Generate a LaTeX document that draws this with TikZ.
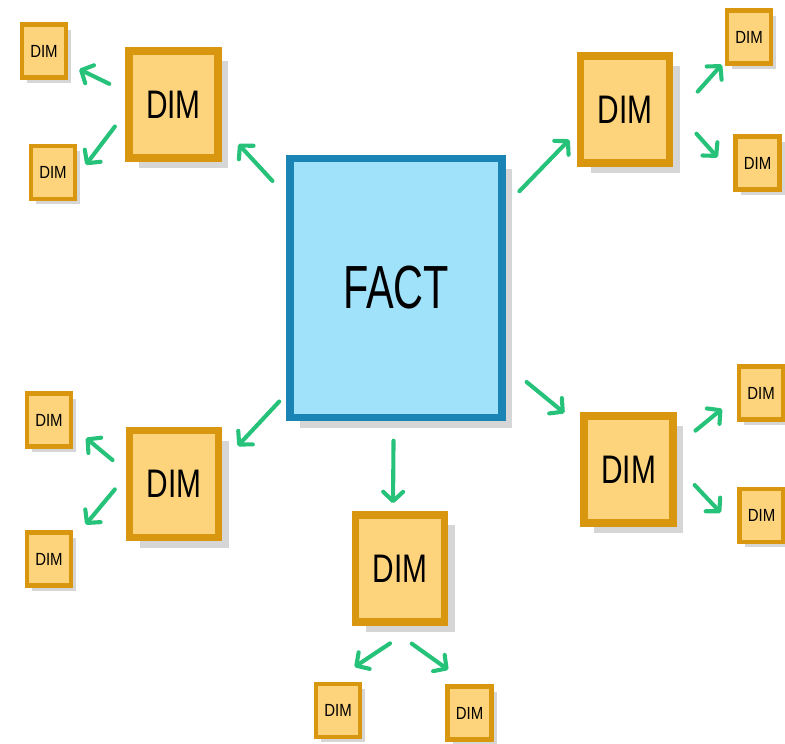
\documentclass[tikz,border=0pt]{standalone}
\usepackage{fontspec}
\setmainfont{Liberation Sans}
\usetikzlibrary{arrows.meta,shadows}
\definecolor{dimfill}{HTML}{FDD37C}
\definecolor{dimline}{HTML}{D9960F}
\definecolor{factfill}{HTML}{A0E2F9}
\definecolor{factline}{HTML}{1A85B5}
\definecolor{arrgreen}{HTML}{26C27A}
\begin{document}
\begin{tikzpicture}[x=0.03cm,y=-0.03cm,
  shd/.style={drop shadow={shadow xshift=0.3cm,shadow yshift=-0.3cm,fill=black!16,opacity=1}},
  factbox/.style={draw=factline,fill=factfill,line width=6.5pt,minimum width=6.36cm,minimum height=7.77cm,inner sep=0pt,shd,font=\fontsize{52}{52}\selectfont},
  bigdim/.style={draw=dimline,fill=dimfill,line width=6.5pt,minimum width=2.67cm,minimum height=3.21cm,inner sep=0pt,shd,font=\fontsize{34}{34}\selectfont},
  smalldim/.style={draw=dimline,fill=dimfill,line width=4pt,minimum width=1.32cm,minimum height=1.59cm,inner sep=0pt,drop shadow={shadow xshift=0.15cm,shadow yshift=-0.15cm,fill=black!16,opacity=1},font=\fontsize{15}{15}\selectfont},
  arr/.style={draw=arrgreen,line width=3.5pt,line cap=round,-{Straight Barb[length=8pt,width=17pt,line cap=round,line join=round]}}]
\useasboundingbox (0,0) rectangle (785,743);
% central fact
\node[factbox] (fact) at (396,288) {\scalebox{0.68}[1]{FACT}};
% big dims
\node[bigdim] (tl) at (173.5,104.5) {\scalebox{0.75}[1]{DIM}};
\node[bigdim] (tr) at (625,109.5) {\scalebox{0.75}[1]{DIM}};
\node[bigdim] (bl) at (174,484) {\scalebox{0.75}[1]{DIM}};
\node[bigdim] (bt) at (400,568.5) {\scalebox{0.75}[1]{DIM}};
\node[bigdim] (br) at (628.5,469.5) {\scalebox{0.75}[1]{DIM}};
% small dims
\node[smalldim] (tl1) at (44,51) {\scalebox{0.85}[1]{DIM}};
\node[smalldim] (tl2) at (53,172.5) {\scalebox{0.85}[1]{DIM}};
\node[smalldim] (tr1) at (749,37) {\scalebox{0.85}[1]{DIM}};
\node[smalldim] (tr2) at (757.5,163) {\scalebox{0.85}[1]{DIM}};
\node[smalldim] (bl1) at (49,420) {\scalebox{0.85}[1]{DIM}};
\node[smalldim] (bl2) at (49,559) {\scalebox{0.85}[1]{DIM}};
\node[smalldim] (bt1) at (338,710.5) {\scalebox{0.85}[1]{DIM}};
\node[smalldim] (bt2) at (469.5,713) {\scalebox{0.85}[1]{DIM}};
\node[smalldim] (br1) at (761,393) {\scalebox{0.85}[1]{DIM}};
\node[smalldim] (br2) at (761.5,515.5) {\scalebox{0.85}[1]{DIM}};
% arrows from fact
\draw[arr,shorten <=17.3pt,shorten >=21pt] (fact.140.5) -- (tl.-24.9);
\draw[arr,shorten <=16.7pt,shorten >=9pt] (fact.37.5) -- (tr.-155.7);
\draw[arr,shorten <=8.7pt,shorten >=19.3pt] (fact.-136.8) -- (bl.24.8);
\draw[arr,shorten <=16.6pt,shorten >=6.8pt] (fact.-91.3) -- (bt.97.5);
\draw[arr,shorten <=23pt,shorten >=17.5pt] (fact.-35.7) -- (br.138.3);
% arrows to small dims
\draw[arr,shorten <=15.1pt,shorten >=10.4pt] (tl.165) -- (tl1.-28.2);
\draw[arr,shorten <=14.5pt,shorten >=11.9pt] (tl.-170.3) -- (tl2.-8);
\draw[arr,shorten <=31.3pt,shorten >=3.7pt] (tr.-11.3) -- (tr1.-135.1);
\draw[arr,shorten <=29.6pt,shorten >=20pt] (tr.2.6) -- (tr2.-154.5);
\draw[arr,shorten <=14.6pt,shorten >=14.1pt] (bl.165.5) -- (bl1.-17.2);
\draw[arr,shorten <=14.5pt,shorten >=16.4pt] (bl.171.7) -- (bl2.39.1);
\draw[arr,shorten <=27.1pt,shorten >=22.8pt] (bt.-74) -- (bt1.101.3);
\draw[arr,shorten <=26.2pt,shorten >=21.3pt] (bt.-103.8) -- (bt2.92);
\draw[arr,shorten <=20.6pt,shorten >=16.2pt] (br.26) -- (br1.-171.5);
\draw[arr,shorten <=22.2pt,shorten >=20.4pt] (br.4.1) -- (br2.-149.8);
\end{tikzpicture}
\end{document}
